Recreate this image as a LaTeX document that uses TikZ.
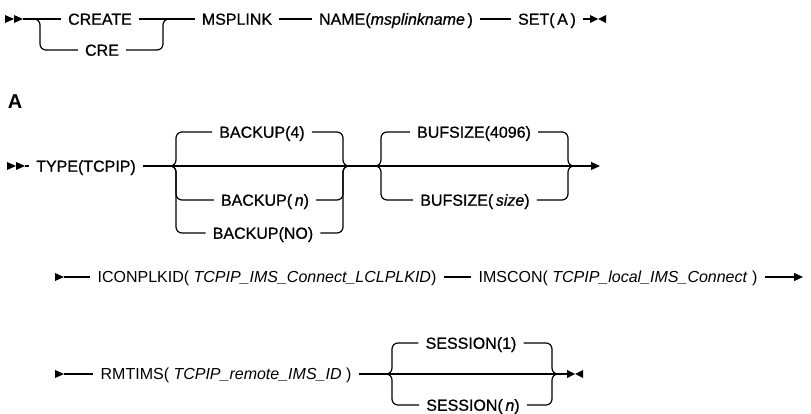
\documentclass[tikz,border=0pt]{standalone}
\usepackage{fontspec}
\setmainfont{Liberation Sans}
\newfontfamily\kwfont{Liberation Sans}[FakeBold=0.8]
\usetikzlibrary{arrows.meta}

\tikzset{
  pics/dblstart/.style={code={
    \fill (0,-4) -- (9,0) -- (0,4) -- cycle;
    \fill (9,-4) -- (18,0) -- (9,4) -- cycle;}},
  pics/sglstart/.style={code={
    \fill (0,-4) -- (9,0) -- (0,4) -- cycle;}},
  pics/stopmark/.style={code={
    \fill (0,-4) -- (8,0) -- (0,4) -- cycle;
    \fill (16,-4) -- (8,0) -- (16,4) -- cycle;}},
}

\begin{document}
\begin{tikzpicture}[
  x=1pt, y=-1pt,
  every node/.style={font=\fontsize{16}{19}\selectfont},
  term/.style={inner xsep=7pt, inner ysep=0pt, text height=11.5pt, text depth=0pt},
  kw/.style={term, font=\kwfont\fontsize{16}{19}\selectfont},
  rail/.style={line width=1.2pt},
  branch/.style={rail, rounded corners=6pt},
  cont/.style={rail, -{Triangle[length=9pt, width=8pt]}}
]
  \useasboundingbox (0,0) rectangle (811,414);

  % first line
  \coordinate (r1s) at (5,19);
  \coordinate (r1go) at (23,19);
  \coordinate (r1a) at (40,19);
  \coordinate (r1b) at (163,19);
  \coordinate (r1e) at (590,19);
  \pic at (r1s) {dblstart};
  \node[kw] (create) at (100,19) {CREATE};
  \node[kw] (cre) at (102,50) {CRE};
  \node[kw] (msplink) at (237,19) {MSPLINK};
  \node[kw] (name) at (396,19) {NAME(\textit{msplinkname}\,)};
  \node[kw] (set) at (547,19) {SET(\,A\,)};
  \pic at (r1e) {stopmark};
  \draw[rail] (r1go) -- (create.west);
  \draw[rail] (create.east) -- (msplink.west);
  \draw[branch] ([xshift=-6pt]r1a) -| (r1a |- cre) -- (cre.west);
  \draw[branch] (cre.east) -| (r1b) -- ([xshift=6pt]r1b);
  \draw[rail] (msplink.east) -- (name.west);
  \draw[rail] (name.east) -- (set.west);
  \draw[rail] (set.east) -- (r1e);

  % fragment A
  \node[font=\bfseries\fontsize{20}{24}\selectfont] (seca) at (15,102) {A};

  \coordinate (r2s) at (7,166);
  \coordinate (r2go) at (25,166);
  \coordinate (bkl) at (176,166);
  \coordinate (bkr) at (343,166);
  \coordinate (bfl) at (381,166);
  \coordinate (bfr) at (568,166);
  \coordinate (r2e) at (600,166);
  \pic at (r2s) {dblstart};
  \node[kw] (type) at (86,166) {TYPE(TCPIP)};
  \node[kw] (bk4) at (262,132) {BACKUP(4)};
  \node[kw] (bkn) at (265,200) {BACKUP(\,\textit{n})};
  \node[kw] (bkno) at (263,233) {BACKUP(NO)};
  \node[kw] (bf4) at (474,132) {BUFSIZE(4096)};
  \node[kw] (bfs) at (475,200) {BUFSIZE(\,\textit{size})};
  \draw[rail] (r2go) -- (type.west);
  \draw[cont] (type.east) -- (r2e);
  \foreach \opt in {bk4,bkn,bkno} {
    \draw[branch] ([xshift=-6pt]bkl) -| (bkl |- \opt) -- (\opt.west);
    \draw[branch] (\opt.east) -| (bkr) -- ([xshift=6pt]bkr);
  }
  \foreach \opt in {bf4,bfs} {
    \draw[branch] ([xshift=-6pt]bfl) -| (bfl |- \opt) -- (\opt.west);
    \draw[branch] (\opt.east) -| (bfr) -- ([xshift=6pt]bfr);
  }

  \coordinate (r3s) at (55,277);
  \coordinate (r3go) at (64,277);
  \coordinate (r3e) at (803,277);
  \pic at (r3s) {sglstart};
  \node[term] (iconp) at (267,277) {ICONPLKID(\ \textit{TCPIP\_IMS\_Connect\_LCLPLKID})};
  \node[term] (imscon) at (618,277) {IMSCON(\ \textit{TCPIP\_local\_IMS\_Connect}\ )};
  \draw[rail] (r3go) -- (iconp.west);
  \draw[rail] (iconp.east) -- (imscon.west);
  \draw[cont] (imscon.east) -- (r3e);

  \coordinate (r4s) at (55,374);
  \coordinate (r4go) at (64,374);
  \coordinate (ssl) at (392,374);
  \coordinate (ssr) at (552,374);
  \coordinate (r4e) at (567,374);
  \pic at (r4s) {sglstart};
  \node[term] (rmtims) at (226,374) {RMTIMS(\ \textit{TCPIP\_remote\_IMS\_ID}\ )};
  \node[kw] (ses1) at (471,343) {SESSION(1)};
  \node[kw] (sesn) at (473,405) {SESSION(\,\textit{n})};
  \pic at (r4e) {stopmark};
  \draw[rail] (r4go) -- (rmtims.west);
  \draw[rail] (rmtims.east) -- (r4e);
  \foreach \opt in {ses1,sesn} {
    \draw[branch] ([xshift=-6pt]ssl) -| (ssl |- \opt) -- (\opt.west);
    \draw[branch] (\opt.east) -| (ssr) -- ([xshift=6pt]ssr);
  }
\end{tikzpicture}
\end{document}
